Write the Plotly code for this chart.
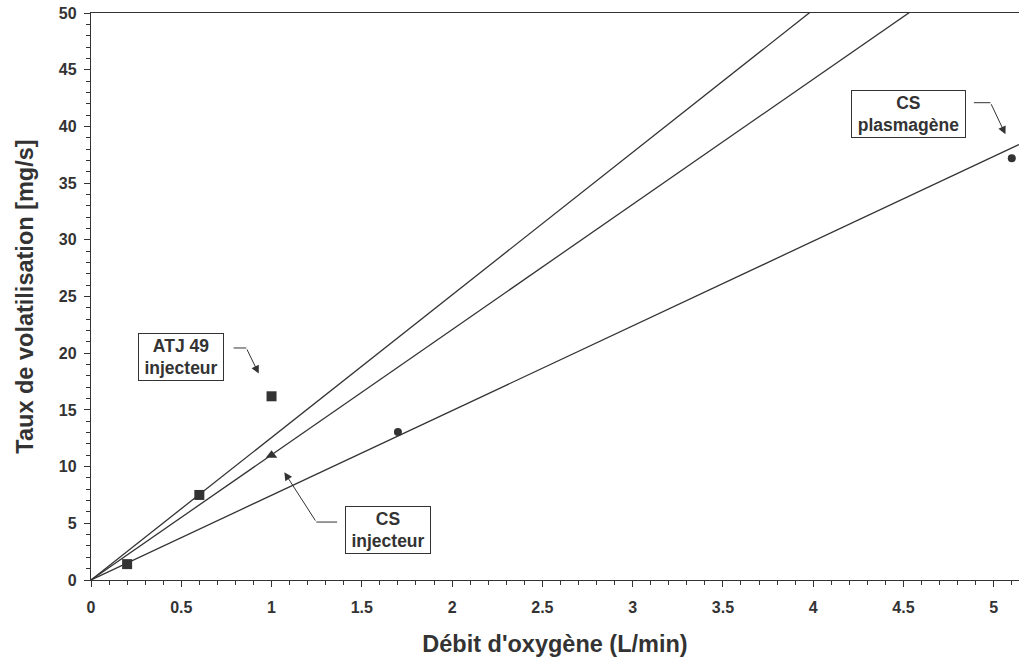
import numpy as np
import plotly.graph_objects as go

# measured points
atj_x = [0.2, 0.6, 1.0]
atj_y = [1.4, 7.5, 16.2]
cs_inj_x = [1.0]
cs_inj_y = [11.0]
cs_plasma_x = [1.7, 5.1]
cs_plasma_y = [13.05, 37.2]

# slopes of the fitted lines through the origin
fit_slopes = [12.57, 11.04, 7.47]

x_max = 5.14
ink = '#333333'
font = 'Liberation Sans, Arial, sans-serif'

fig = go.Figure()

x_fit = np.array([0, x_max])
for slope in fit_slopes:
    fig.add_trace(go.Scatter(
        x=x_fit, y=slope * x_fit, mode='lines',
        line=dict(color=ink, width=1.3), showlegend=False, hoverinfo='skip',
    ))

fig.add_trace(go.Scatter(x=atj_x, y=atj_y, mode='markers', cliponaxis=False,
                         marker=dict(symbol='square', size=10, color=ink), showlegend=False))
fig.add_trace(go.Scatter(x=cs_inj_x, y=cs_inj_y, mode='markers',
                         marker=dict(symbol='triangle-up', size=10, color=ink), showlegend=False))
fig.add_trace(go.Scatter(x=cs_plasma_x, y=cs_plasma_y, mode='markers',
                         marker=dict(symbol='circle', size=8, color=ink), showlegend=False))

# labelled boxes: (text, box centre, box width, arrow start, bend, tip)
labels = [
    ('ATJ 49<br>injecteur', (0.497, 19.7), 84, (0.79, 20.46), (0.86, 20.46), (0.929, 18.2)),
    ('CS<br>injecteur', (1.647, 4.41), 84, (1.363, 5.11), (1.248, 5.11), (1.071, 9.5)),
    ('CS<br>plasmagène', (4.528, 41.1), 113, (4.89, 42.09), (4.982, 42.09), (5.065, 39.3)),
]

for text, (cx, cy), w, start, bend, tip in labels:
    fig.add_annotation(
        x=cx, y=cy, xref='x', yref='y', text=f'<b>{text}</b>', showarrow=False,
        width=w, height=46, bordercolor=ink, borderwidth=1, bgcolor='white', borderpad=0,
        font=dict(family=font, size=17.5, color=ink),
    )
    fig.add_shape(type='line', x0=start[0], y0=start[1], x1=bend[0], y1=bend[1],
                  xref='x', yref='y', line=dict(color=ink, width=1))
    fig.add_annotation(
        x=tip[0], y=tip[1], ax=bend[0], ay=bend[1], xref='x', yref='y', axref='x', ayref='y',
        text='', showarrow=True, arrowhead=2, arrowsize=1.6, arrowwidth=1, arrowcolor=ink,
    )

tick_font = dict(family=font, size=16, color=ink, weight='bold')
title_font = dict(family=font, size=23.5, color=ink, weight='bold')

fig.update_xaxes(
    range=[0, x_max], tickvals=[0, 0.5, 1, 1.5, 2, 2.5, 3, 3.5, 4, 4.5, 5],
    ticktext=['0', '0.5', '1', '1.5', '2', '2.5', '3', '3.5', '4', '4.5', '5'],
    ticks='outside', ticklen=6, tickcolor=ink, tickwidth=1, ticklabelstandoff=7,
    minor=dict(dtick=0.1, ticks='outside', ticklen=4, tickcolor=ink, tick0=0),
    showline=True, linecolor=ink, linewidth=1.3, mirror=True,
    showgrid=False, zeroline=False,
    title=dict(text="Débit d'oxygène (L/min)", font=title_font, standoff=20),
    tickfont=tick_font,
)
fig.update_yaxes(
    range=[0, 50], dtick=5, ticks='outside', ticklen=6, tickcolor=ink, tickwidth=1, ticklabelstandoff=4,
    minor=dict(dtick=1, ticks='outside', ticklen=4, tickcolor=ink),
    showline=True, linecolor=ink, linewidth=1.3,
    showgrid=False, zeroline=False,
    title=dict(text='Taux de volatilisation [mg/s]', font=title_font, standoff=18),
    tickfont=tick_font,
)

fig.update_layout(
    width=1019, height=659,
    margin=dict(l=91, r=0, t=13, b=79, autoexpand=False),
    plot_bgcolor='white', paper_bgcolor='white',
    font=dict(family=font, color=ink),
)

fig.write_html('out.html', config={'displayModeBar': False},
               post_script="document.body.style.margin='0';")
